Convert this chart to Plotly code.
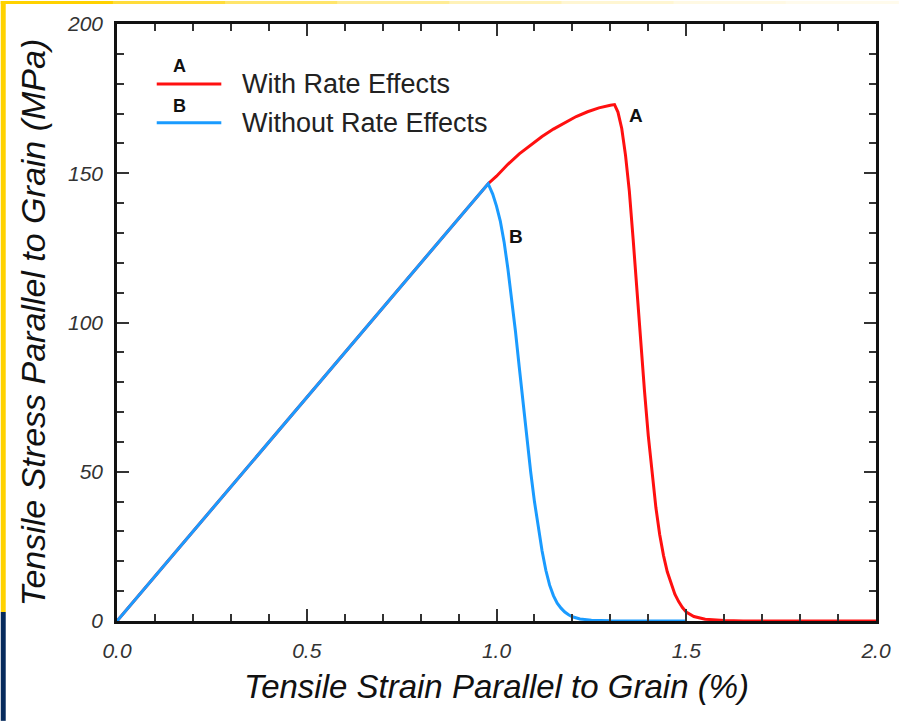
import plotly.graph_objects as go

# ---- data ----
strain_b = [0.0, 0.978, 0.99, 1.00, 1.01, 1.02, 1.03, 1.04, 1.05, 1.06, 1.07, 1.08, 1.09, 1.10, 1.11,
            1.12, 1.13, 1.14, 1.15, 1.16, 1.17, 1.18, 1.19, 1.20, 1.22, 1.25, 1.30, 1.35, 1.50]
stress_b = [0.0, 146.5, 143.0, 139.0, 134.0, 127.0, 118.0, 108.0, 97.0, 85.0, 73.0, 61.0, 50.0, 40.0, 31.0,
            23.5, 17.0, 12.0, 8.5, 6.0, 4.3, 3.0, 2.1, 1.4, 0.7, 0.25, 0.05, 0.0, 0.0]

strain_a = [0.0, 0.978, 1.00, 1.03, 1.06, 1.09, 1.12, 1.15, 1.18, 1.21, 1.24, 1.27, 1.30, 1.311,
            1.32, 1.33, 1.34, 1.35, 1.36, 1.37, 1.38, 1.39, 1.40, 1.41, 1.42, 1.43, 1.44, 1.45,
            1.46, 1.47, 1.48, 1.49, 1.50, 1.52, 1.55, 1.60, 1.65, 2.0]
stress_a = [0.0, 146.5, 149.0, 153.0, 156.5, 159.5, 162.3, 164.8, 167.0, 169.0, 170.6, 171.9, 172.8, 173.0,
            170.5, 165.0, 156.0, 144.0, 128.0, 110.0, 93.0, 77.0, 62.0, 49.0, 38.0, 29.0, 22.0, 16.5,
            12.5, 9.0, 6.5, 4.5, 3.0, 1.5, 0.6, 0.15, 0.0, 0.0]

series_names = ["With Rate Effects", "Without Rate Effects"]
series_tags = ["A", "B"]
x_ticks = [0.0, 0.5, 1.0, 1.5, 2.0]
x_tick_text = ["0.0", "0.5", "1.0", "1.5", "2.0"]
y_ticks = [0, 50, 100, 150, 200]
y_tick_text = ["0", "50", "100", "150", "200"]

RED = "#ff1010"
BLUE = "#1a9bff"

W, H = 903, 721
L, R, T, B = 117, 22, 23, 100
PW, PH = W - L - R, H - T - B


def px(x):
    return (x - L) / PW


def py(y):
    return (H - B - y) / PH


fig = go.Figure()
fig.add_trace(go.Scatter(x=strain_a, y=stress_a, mode="lines", line=dict(color=RED, width=3),
                         name=series_names[0], showlegend=False))
fig.add_trace(go.Scatter(x=strain_b, y=stress_b, mode="lines", line=dict(color=BLUE, width=3),
                         name=series_names[1], showlegend=False))

font_fam = "Liberation Sans, Arial, Helvetica, sans-serif"

shapes = []
# page decoration: left strip and top stripe
shapes.append(dict(type="rect", xref="paper", yref="paper", x0=px(0), x1=px(5), y0=py(612), y1=py(0),
                   fillcolor="#ffd200", line=dict(width=0), layer="below"))
shapes.append(dict(type="rect", xref="paper", yref="paper", x0=px(0), x1=px(5), y0=py(721), y1=py(612),
                   fillcolor="#062a5c", line=dict(width=0), layer="below"))
top_cols = ["#ffd200", "#ffdc3a", "#ffe56a", "#ffec95", "#fff2b8", "#fff6d2", "#fff9e3", "#fffbec"]
seg = W / len(top_cols)
for i, c in enumerate(top_cols):
    shapes.append(dict(type="rect", xref="paper", yref="paper", x0=px(i * seg), x1=px((i + 1) * seg + 1),
                       y0=py(3), y1=py(0), fillcolor=c, line=dict(width=0), layer="below"))

# legend lines
shapes.append(dict(type="line", xref="paper", yref="paper", x0=px(157), x1=px(222), y0=py(83), y1=py(83),
                   line=dict(color=RED, width=3)))
shapes.append(dict(type="line", xref="paper", yref="paper", x0=px(157), x1=px(222), y0=py(122), y1=py(122),
                   line=dict(color=BLUE, width=3)))

annotations = [
    dict(xref="paper", yref="paper", x=px(180), y=py(65), text="<b>" + series_tags[0] + "</b>", showarrow=False,
         font=dict(size=18, color="#111", family=font_fam), xanchor="center", yanchor="middle"),
    dict(xref="paper", yref="paper", x=px(180), y=py(105), text="<b>" + series_tags[1] + "</b>", showarrow=False,
         font=dict(size=18, color="#111", family=font_fam), xanchor="center", yanchor="middle"),
    dict(xref="paper", yref="paper", x=px(241), y=py(83), text=series_names[0], showarrow=False,
         font=dict(size=27, color="#222", family=font_fam), xanchor="left", yanchor="middle"),
    dict(xref="paper", yref="paper", x=px(241), y=py(122), text=series_names[1], showarrow=False,
         font=dict(size=27, color="#222", family=font_fam), xanchor="left", yanchor="middle"),
    dict(x=1.343, y=173.5, text="<b>" + series_tags[0] + "</b>", showarrow=False, xanchor="left", yanchor="top",
         font=dict(size=19, color="#111", family=font_fam)),
    dict(x=1.027, y=133, text="<b>" + series_tags[1] + "</b>", showarrow=False, xanchor="left", yanchor="top",
         font=dict(size=19, color="#111", family=font_fam)),
]

axis_common = dict(
    showline=True, linecolor="#111", linewidth=2.5, mirror="ticks",
    ticks="inside", ticklen=12, tickwidth=1.5, tickcolor="#333",
    showgrid=False, zeroline=False,
    tickfont=dict(size=21, color="#333", family=font_fam, style="italic"),
)

fig.update_layout(
    width=W, height=H,
    margin=dict(l=L, r=R, t=T, b=B, pad=0),
    paper_bgcolor="white", plot_bgcolor="white",
    shapes=shapes, annotations=annotations,
    xaxis=dict(range=[0, 2.0], tickvals=x_ticks, ticktext=x_tick_text, ticklabelstandoff=9,
               minor=dict(dtick=0.1, ticks="inside", ticklen=7, tickwidth=1.5, tickcolor="#333"),
               title=dict(text="Tensile Strain Parallel to Grain (%)", standoff=14,
                          font=dict(size=33, color="#111", family=font_fam, style="italic")),
               **axis_common),
    yaxis=dict(range=[0, 200], tickvals=y_ticks, ticktext=y_tick_text, ticklabelstandoff=7,
               minor=dict(dtick=10, ticks="inside", ticklen=7, tickwidth=1.5, tickcolor="#333"),
               title=dict(text="Tensile Stress Parallel to Grain (MPa)", standoff=12,
                          font=dict(size=34, color="#111", family=font_fam, style="italic")),
               **axis_common),
)

fig.write_html("out.html")
